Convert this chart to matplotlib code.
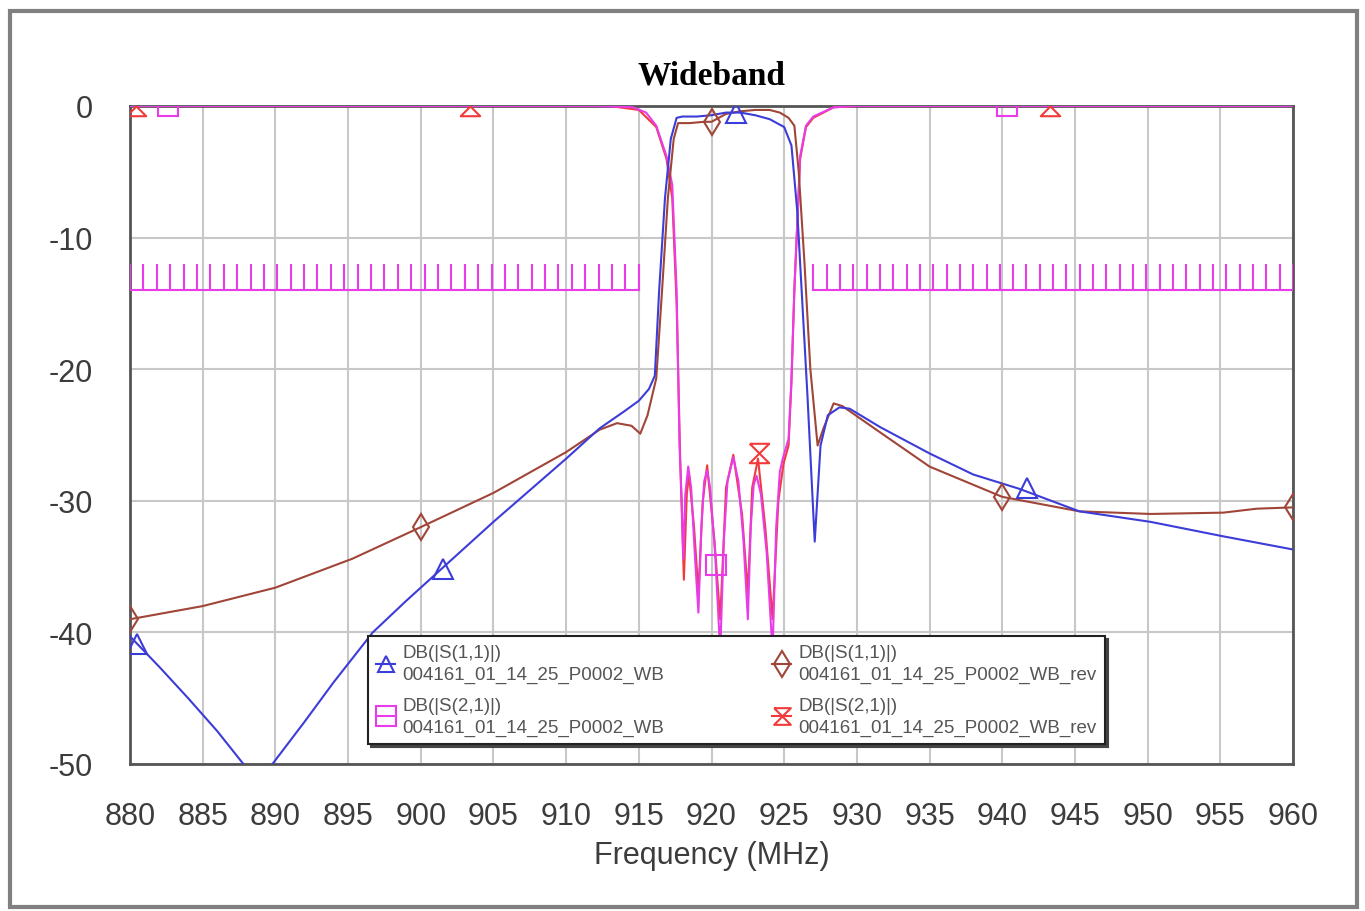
import matplotlib
matplotlib.use("Agg")
import matplotlib.pyplot as plt
import numpy as np
from matplotlib.patches import Rectangle

plt.rcParams['font.family'] = ['Liberation Sans', 'DejaVu Sans']
plt.rcParams['axes.unicode_minus'] = False

# DB(|S(1,1)|) 004161_01_14_25_P0002_WB  (blue, triangles)
s11_wb_f = [880, 882, 884, 886, 887.8, 888.8, 889.8, 892, 894, 896.7, 899, 901.5,
            905, 910, 912.3, 914, 915, 915.7, 916.1, 916.4, 916.8, 917.2, 917.6, 918,
            919, 920, 921, 922, 923, 924, 925, 925.5, 925.9, 926.2, 926.6, 927.1,
            927.5, 928, 928.8, 929.5, 931.6, 935, 938, 941.2, 945.3, 950.2, 955.2, 960]
s11_wb_db = [-40.3, -42.6, -45.0, -47.5, -50.0, -51.2, -50.0, -46.8, -43.8, -40.0, -37.6, -35.1,
             -31.6, -26.8, -24.5, -23.2, -22.4, -21.5, -20.5, -14.0, -7.0, -2.5, -0.9, -0.8,
             -0.8, -0.7, -0.5, -0.5, -0.7, -1.0, -1.6, -3.0, -8.0, -14.0, -22.0, -33.1,
             -25.8, -23.5, -22.9, -23.0, -24.4, -26.4, -28.0, -29.1, -30.8, -31.6, -32.7, -33.7]
s11_wb_mf = [880.5, 901.5, 921.7, 941.7]
s11_wb_mdb = [-40.9, -35.2, -0.5, -29.0]

# DB(|S(1,1)|) 004161_01_14_25_P0002_WB_rev  (brown, diamonds)
s11_rev_f = [880, 885, 890, 895.3, 900, 905, 910, 912.3, 913.5, 914.5, 915.1, 915.6, 916.2,
             916.6, 917.0, 917.4, 917.7, 918.5, 919.5, 920, 920.5, 921, 922, 923, 924,
             924.7, 925.3, 925.7, 926.0, 926.4, 926.8, 927.3, 927.7, 928.4, 929, 931.6,
             935, 940, 945.3, 950.2, 955.2, 957.5, 960]
s11_rev_db = [-39.0, -38.0, -36.6, -34.4, -32.0, -29.4, -26.3, -24.6, -24.1, -24.3, -24.9, -23.5, -20.7,
              -14.0, -7.0, -2.5, -1.3, -1.3, -1.2, -1.2, -0.9, -0.6, -0.4, -0.3, -0.3,
              -0.5, -0.9, -1.5, -5.0, -12.0, -20.0, -25.8, -24.5, -22.6, -22.8, -24.8,
              -27.4, -29.7, -30.8, -31.0, -30.9, -30.6, -30.5]
s11_rev_mf = [880, 900, 920, 940, 960]
s11_rev_mdb = [-39.0, -32.0, -1.2, -29.7, -30.5]

# DB(|S(2,1)|) 004161_01_14_25_P0002_WB  (magenta, squares)
s21_wb_f = [880, 912, 913.5, 914.6, 915.5, 916.2, 916.9, 917.3, 917.6, 917.8, 917.95, 918.06,
            918.2, 918.4, 918.6, 918.85, 919.1, 919.3, 919.5, 919.7, 919.9, 920.25, 920.6,
            920.85, 921.1, 921.5, 921.85, 922.2, 922.5, 922.7, 922.9, 923.1, 923.4, 923.8,
            924.2, 924.45, 924.7, 924.9, 925.3, 925.5, 925.7, 926.1, 926.5, 927.0, 928.4, 930, 960]
s21_wb_db = [0, 0, -0.05, -0.1, -0.5, -1.5, -3.8, -6.0, -14.0, -25.8, -30.0, -34.4,
             -29.5, -27.4, -29.0, -34.0, -38.5, -32.0, -28.5, -27.7, -29.0, -34.0, -41.5,
             -33.0, -28.5, -26.7, -28.5, -33.0, -39.0, -32.0, -28.8, -28.1, -29.5, -34.0,
             -41.5, -32.0, -27.8, -26.8, -25.3, -20.7, -13.9, -3.8, -1.5, -0.8, -0.1, 0, 0]
s21_wb_mf = [882.6, 920.3, 940.3]
s21_wb_mdb = [0, -34.9, 0]

# DB(|S(2,1)|) 004161_01_14_25_P0002_WB_rev  (red, hourglass)
s21_rev_f = [880, 913, 915, 916.2, 916.9, 917.3, 917.6, 917.85, 918.1, 918.3, 918.45, 918.8,
             919.1, 919.4, 919.7, 920.2, 920.6, 921.0, 921.5, 922.1, 922.5, 922.8, 923.2,
             923.7, 924.2, 924.6, 924.95, 925.3, 925.5, 925.7, 926.1, 926.5, 927, 928.4, 930, 960]
s21_rev_db = [0, 0, -0.3, -1.6, -4.0, -7.0, -15.0, -27.0, -36.0, -29.5, -28.0, -32.0,
              -37.0, -30.0, -27.3, -33.0, -39.0, -29.0, -26.5, -31.0, -37.0, -29.0, -26.8,
              -32.0, -39.0, -30.0, -27.2, -25.8, -21.0, -14.0, -4.0, -1.6, -0.9, -0.1, 0, 0]
s21_rev_mf = [880.4, 903.4, 923.3, 943.3]
s21_rev_mdb = [0, 0, -26.4, 0]

# limit line (mask)
mask_lo_f = [880, 915]
mask_hi_f = [927, 960]
mask_db = -14

xticks = np.arange(880, 961, 5)
yticks = np.arange(-50, 1, 10)

c_blue = '#3c3cd8'
c_brown = '#a04538'
c_mag = '#e83ce8'
c_red = '#f23a3a'

hourglass = [(-1, 1), (1, 1), (-1, -1), (1, -1), (-1, 1)]

fig = plt.figure(figsize=(13.65, 9.12), dpi=100)
ax = fig.add_axes([130/1365, 1-765/912, 1163/1365, 658/912])

# mask with comb ticks
for seg in (mask_lo_f, mask_hi_f):
    ax.plot(seg, [mask_db, mask_db], color=c_mag, lw=1.5, zorder=3)
    n = int(round((seg[1]-seg[0]) / 0.92)) + 1
    ax.vlines(np.linspace(seg[0], seg[1], n), mask_db, mask_db+2, color=c_mag, lw=1.5, zorder=3)

lw = 1.5
ax.plot(s21_rev_f, s21_rev_db, color=c_red, lw=lw, zorder=3)
ax.plot(s21_wb_f, s21_wb_db, color=c_mag, lw=lw, zorder=4)
ax.plot(s11_rev_f, s11_rev_db, color=c_brown, lw=lw, zorder=5)
ax.plot(s11_wb_f, s11_wb_db, color=c_blue, lw=lw, zorder=6)

ax.plot(s11_wb_mf, s11_wb_mdb, ls='none', marker='^', ms=14, mfc='none', mec=c_blue, mew=1.5, zorder=7)
ax.plot(s11_rev_mf, s11_rev_mdb, ls='none', marker='d', ms=13, mfc='none', mec=c_brown, mew=1.5, zorder=7)
ax.plot(s21_wb_mf, s21_wb_mdb, ls='none', marker='s', ms=15, mfc='none', mec=c_mag, mew=1.5, zorder=7)
ax.plot(s21_rev_mf, s21_rev_mdb, ls='none', marker=hourglass, ms=14, mfc='none', mec=c_red, mew=1.5, zorder=7)

# legend handles
h1, = ax.plot([], [], color=c_blue, lw=lw, marker='^', ms=12, mfc='none', mew=1.5)
h2, = ax.plot([], [], color=c_mag, lw=lw, marker='s', ms=14, mfc='none', mew=1.5)
h3, = ax.plot([], [], color=c_brown, lw=lw, marker='d', ms=13, mfc='none', mew=1.5)
h4, = ax.plot([], [], color=c_red, lw=lw, marker=hourglass, ms=12, mfc='none', mew=1.5)
labels = ['DB(|S(1,1)|)\n004161_01_14_25_P0002_WB',
          'DB(|S(2,1)|)\n004161_01_14_25_P0002_WB',
          'DB(|S(1,1)|)\n004161_01_14_25_P0002_WB_rev',
          'DB(|S(2,1)|)\n004161_01_14_25_P0002_WB_rev']
leg = ax.legend([h1, h2, h3, h4], labels, ncol=2, loc='lower left',
                bbox_to_anchor=(0.2046, 0.030, 0.634, 0.166), mode='expand', borderaxespad=0,
                fontsize=13.5, handlelength=1.0, handletextpad=0.4, labelspacing=0.75,
                borderpad=0.45, columnspacing=1.0, fancybox=False, framealpha=1,
                edgecolor='#222222', shadow={'color': '#444444', 'alpha': 1})
leg.get_frame().set_linewidth(1.5)
leg.set_zorder(10)
for t in leg.get_texts():
    t.set_color('#555555')
    t.set_linespacing(1.35)

ax.set_xlim(880, 960)
ax.set_ylim(-50, 0)
ax.set_xticks(xticks)
ax.set_yticks(yticks)
ax.grid(True, color='#c8c8c8', lw=1.5)
ax.set_axisbelow(True)
ax.tick_params(length=0, labelsize=22, labelcolor='#3c3c3c', pad=27)
for s in ax.spines.values():
    s.set_color('#555555')
    s.set_linewidth(2)

ax.set_xlabel('Frequency (MHz)', fontsize=22, color='#3c3c3c', labelpad=6)
ax.set_title('Wideband', fontsize=24, fontweight='bold', family='Liberation Serif', pad=16)

fig.patches.append(Rectangle((10/1365, 1-908/912), 1347/1365, 896/912, transform=fig.transFigure,
                             fill=False, edgecolor='#808080', lw=3))

fig.savefig('out.png', dpi=100)
